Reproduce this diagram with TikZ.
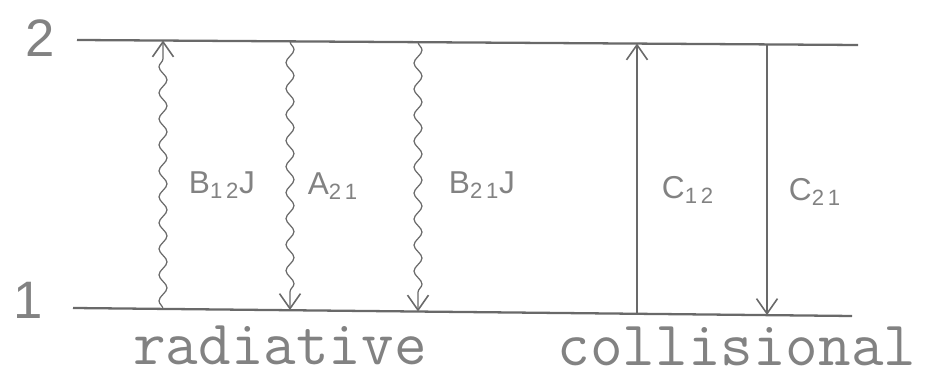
\documentclass[tikz,border=0pt]{standalone}
\usepackage{fontspec}
\setmainfont{Liberation Sans}
\usepackage{xcolor}
\usepackage{tikz}
\usetikzlibrary{arrows.meta, decorations.pathmorphing, calc}
\definecolor{LineGray}{RGB}{105,105,105}
\definecolor{TextGray}{RGB}{130,130,130}
\begin{document}
\begin{tikzpicture}[>={Straight Barb[length=0.3cm, width=0.42cm, line width=0.9pt]},
  level/.style={draw=LineGray, line width=1.3pt},
  wavy/.style={draw=LineGray, line width=0.7pt, ->, decorate,
    decoration={snake, amplitude=0.08cm, segment length=0.52cm, post length=0.35cm}},
  coll/.style={draw=LineGray, line width=0.9pt, ->},
  lbl/.style={text=TextGray, font=\fontsize{18}{20}\selectfont, inner sep=0pt},
  lvl/.style={text=TextGray, font=\fontsize{30}{32}\selectfont, inner sep=0pt},
  kind/.style={text=TextGray, font=\ttfamily\addfontfeatures{LetterSpace=5}\fontsize{36}{38}\selectfont, inner sep=0pt, anchor=base}]
  \useasboundingbox (0,0) rectangle (18.5,7.54);
  % energy levels
  \coordinate (l2w) at (1.54,6.74); \coordinate (l2e) at (17.16,6.64);
  \coordinate (l1w) at (1.46,1.38); \coordinate (l1e) at (17.04,1.22);
  \draw[level] (l2w) -- (l2e);
  \draw[level] (l1w) -- (l1e);
  \node[lvl] (n2) at (0.8,6.78) {2};
  \node[lvl] (n1) at (0.56,1.54) {1};
  % radiative
  \coordinate (bu1) at (3.26,1.36); \coordinate (bu2) at (3.26,6.73);
  \coordinate (a2) at (5.80,6.71); \coordinate (a1) at (5.80,1.34);
  \coordinate (bd2) at (8.36,6.70); \coordinate (bd1) at (8.36,1.31);
  \draw[wavy] (bu1) -- (bu2);
  \draw[wavy] (a2) -- (a1);
  \draw[wavy] (bd2) -- (bd1);
  \node[lbl] (b12) at (4.44,3.84) {B\textsubscript{1\,2}J};
  \node[lbl] (a21) at (6.66,3.82) {A\textsubscript{2\,1}};
  \node[lbl] (b21) at (9.64,3.84) {B\textsubscript{2\,1}J};
  % collisional
  \coordinate (cu1) at (12.74,1.26); \coordinate (cu2) at (12.74,6.67);
  \coordinate (cd2) at (15.34,6.65); \coordinate (cd1) at (15.34,1.24);
  \draw[coll] (cu1) -- (cu2);
  \draw[coll] (cd2) -- (cd1);
  \node[lbl] (c12) at (13.76,3.74) {C\textsubscript{1\,2}};
  \node[lbl] (c21) at (16.30,3.70) {C\textsubscript{2\,1}};
  \node[kind] (rad) at (5.6,0.25) {radiative};
  \node[kind] (col) at (14.74,0.23) {collisional};
\end{tikzpicture}
\end{document}
